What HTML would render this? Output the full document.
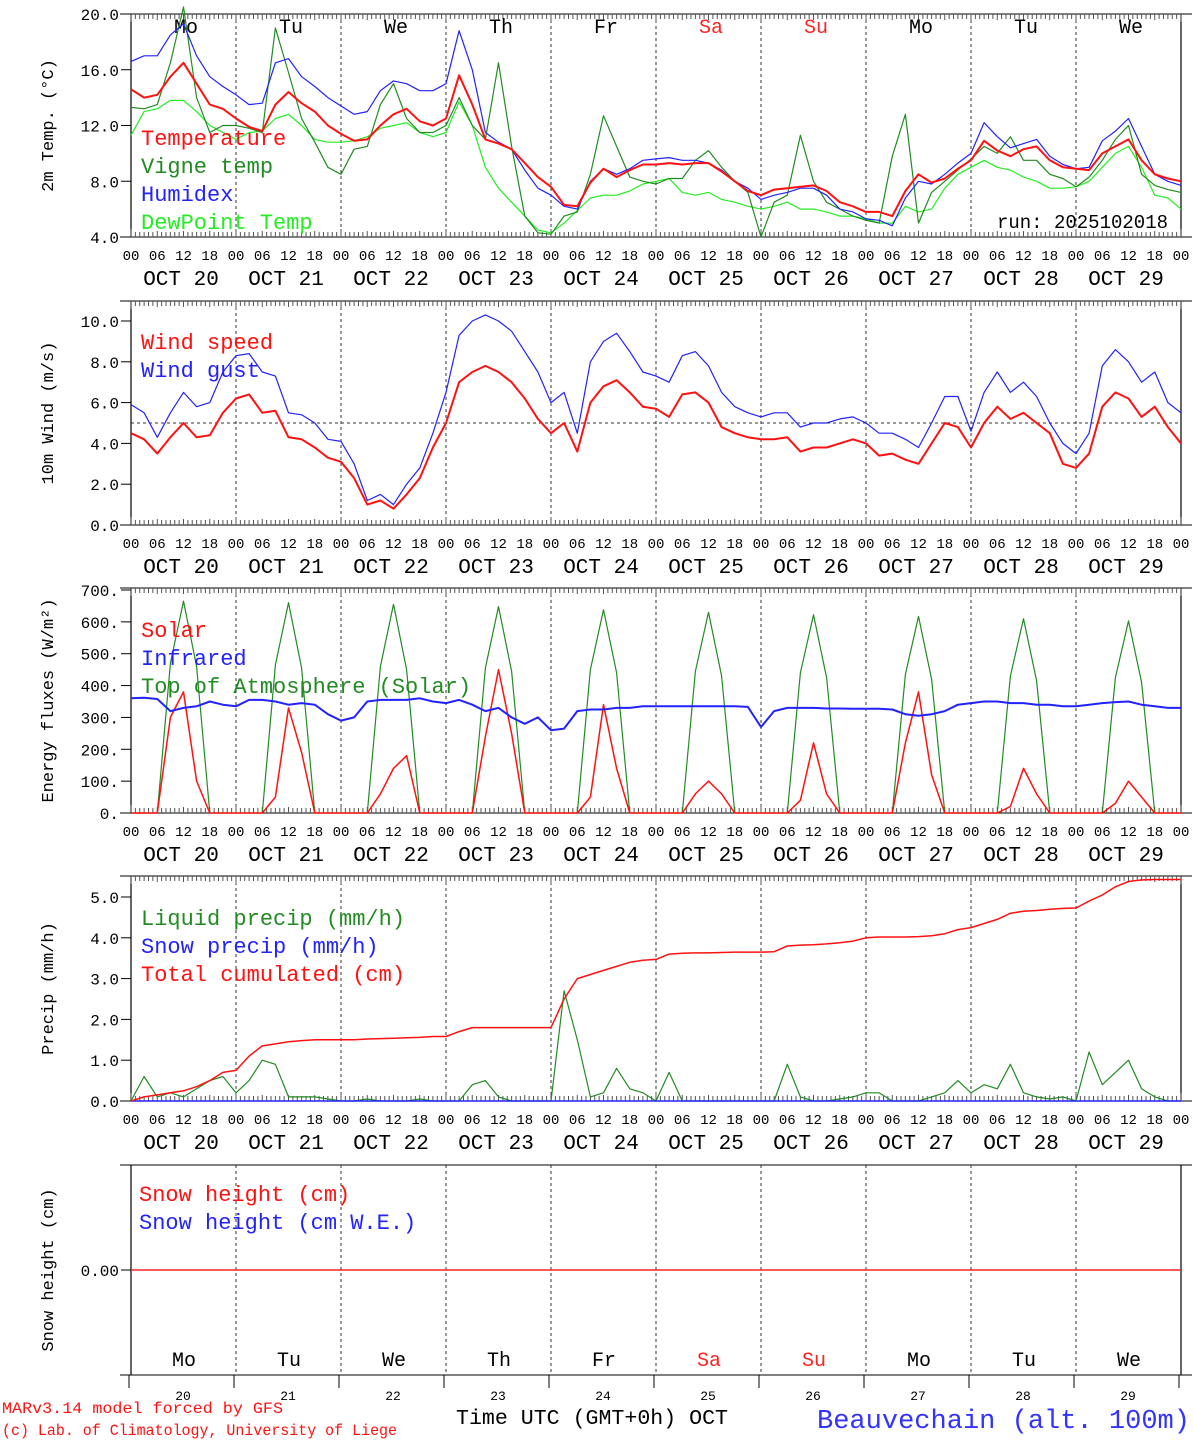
<!DOCTYPE html>
<html><head><meta charset="utf-8"><style>
html,body{margin:0;padding:0;background:#fff}
svg{display:block}
text{font-family:"Liberation Mono","DejaVu Sans Mono",monospace}
</style></head><body>
<svg id="c" width="1194" height="1440" viewBox="0 0 1194 1440" xmlns="http://www.w3.org/2000/svg"></svg>
<script>
const days=["20","21","22","23","24","25","26","27","28","29"];
const dayNames=["Mo","Tu","We","Th","Fr","Sa","Su","Mo","Tu","We"];
const hourLabels=["00","06","12","18"];
// 3-hourly series, 81 points (Oct20 00 -> Oct30 00)
const temperature=[14.6,14.0,14.2,15.5,16.5,15.0,13.5,13.2, 12.5,11.9,11.6,13.5,14.4,13.6,13.0,12.0, 11.4,10.9,11.0,12.0,12.8,13.2,12.3,12.0, 12.5,15.6,13.5,11.0,10.7,10.3,9.3,8.3, 7.6,6.3,6.2,7.9,8.9,8.3,8.8,9.2, 9.2,9.3,9.2,9.3,9.3,8.7,8.0,7.3, 7.0,7.4,7.5,7.6,7.7,7.3,6.5,6.2, 5.8,5.8,5.5,7.3,8.5,7.9,8.2,8.9, 9.5,10.9,10.2,9.8,10.3,10.5,9.5,9.0, 8.9,8.8,10.0,10.5,11.0,9.5,8.5,8.2,8.0];
const humidex=[16.6,17.0,17.0,18.5,19.3,17.0,15.5,14.8, 14.2,13.5,13.6,16.5,16.8,15.5,14.8,14.0, 13.4,12.8,13.0,14.5,15.2,15.0,14.5,14.5, 15.0,18.8,16.0,11.5,10.8,10.3,8.8,7.5, 7.0,6.2,6.0,8.0,8.9,8.5,8.9,9.5, 9.6,9.7,9.5,9.5,9.3,8.8,8.0,7.5, 6.7,7.0,7.2,7.5,7.5,7.0,6.0,5.8, 5.3,5.2,4.8,6.8,8.0,7.8,8.5,9.3, 10.0,12.2,11.2,10.4,10.7,11.0,9.8,9.2, 8.9,9.0,10.9,11.6,12.5,10.5,8.5,8.0,7.7];
const vigne=[13.3,13.2,13.5,16.5,20.5,14.0,11.5,12.0, 12.0,11.8,11.5,19.0,15.8,12.5,10.8,9.0, 8.5,10.3,10.5,13.5,15.0,12.5,11.5,11.5, 12.0,14.0,12.0,11.0,16.5,10.5,5.5,4.3, 4.2,5.5,5.8,8.5,12.7,10.5,8.3,8.0, 7.8,8.2,8.2,9.5,10.2,9.0,8.0,7.2, 4.0,6.5,7.0,11.3,8.0,6.5,6.0,5.5, 5.2,5.0,9.8,12.8,5.0,7.2,8.0,8.8, 9.6,10.5,10.0,11.2,9.5,9.5,8.5,8.2, 7.6,8.3,9.5,11.0,12.0,8.5,7.7,7.4,7.2];
const dewpoint=[11.3,13.0,13.2,13.8,13.8,13.0,12.0,11.5, 11.0,11.5,11.6,12.5,12.8,12.0,11.0,10.8, 10.8,10.9,11.2,11.8,12.0,12.2,11.5,11.2, 11.5,13.7,12.0,9.0,7.5,6.5,5.5,4.5, 4.3,5.0,5.9,6.8,7.0,7.0,7.3,7.8, 8.0,8.2,7.2,7.0,7.2,6.7,6.5,6.2, 6.0,6.2,6.5,6.0,6.0,5.8,5.5,5.5, 5.3,5.0,5.0,6.2,5.8,6.0,7.5,8.5, 9.0,9.5,9.0,8.8,8.3,8.0,7.5,7.5, 7.6,8.0,9.0,10.0,10.5,9.0,7.0,6.8,6.0];
const windSpeed=[4.5,4.2,3.5,4.3,5.0,4.3,4.4,5.5, 6.2,6.4,5.5,5.6,4.3,4.2,3.8,3.3, 3.1,2.3,1.0,1.2,0.8,1.5,2.3,3.8, 5.0,7.0,7.5,7.8,7.5,7.0,6.2,5.2, 4.5,5.0,3.6,6.0,6.8,7.1,6.5,5.8, 5.7,5.3,6.4,6.5,6.0,4.8,4.5,4.3, 4.2,4.2,4.3,3.6,3.8,3.8,4.0,4.2, 4.0,3.4,3.5,3.2,3.0,4.0,5.0,4.8, 3.8,5.0,5.8,5.2,5.5,5.0,4.5,3.0, 2.8,3.5,5.8,6.5,6.2,5.3,5.8,4.8,4.0];
const windGust=[5.9,5.5,4.3,5.5,6.5,5.8,6.0,7.5, 8.3,8.4,7.5,7.3,5.5,5.4,5.0,4.2, 4.1,3.0,1.2,1.5,1.0,2.0,2.8,4.5, 6.5,9.3,10.0,10.3,10.0,9.5,8.5,7.5, 6.0,6.5,4.5,8.0,9.0,9.4,8.5,7.5, 7.3,7.0,8.3,8.5,7.8,6.5,5.8,5.5, 5.3,5.5,5.5,4.8,5.0,5.0,5.2,5.3, 5.0,4.5,4.5,4.2,3.8,5.0,6.3,6.3, 4.6,6.5,7.5,6.5,7.0,6.3,5.0,4.0, 3.5,4.5,7.8,8.6,8.0,7.0,7.5,6.0,5.5];
const solar=[0,0,0,300,380,100,0,0, 0,0,0,50,330,190,0,0, 0,0,0,60,140,180,0,0, 0,0,0,240,450,250,0,0, 0,0,0,50,340,140,0,0, 0,0,0,60,100,60,0,0, 0,0,0,40,220,60,0,0, 0,0,0,220,380,120,0,0, 0,0,0,20,140,60,0,0, 0,0,0,30,100,50,0,0,0];
const infrared=[360,362,358,320,330,335,350,340, 335,355,355,350,340,345,340,310, 290,300,350,355,355,355,360,350, 345,355,340,320,330,300,280,300, 260,265,320,325,325,330,330,335, 335,335,335,335,335,335,335,333, 270,320,330,330,330,328,328,327, 327,327,325,310,305,310,320,340, 345,350,350,345,345,340,340,335, 335,340,345,348,350,340,335,330,330];
const toa=[0,0,0,470,665,460,0,0, 0,0,0,465,660,455,0,0, 0,0,0,460,655,450,0,0, 0,0,0,455,648,445,0,0, 0,0,0,450,638,440,0,0, 0,0,0,445,630,430,0,0, 0,0,0,440,622,425,0,0, 0,0,0,435,617,420,0,0, 0,0,0,430,610,415,0,0, 0,0,0,425,603,410,0,0,0];
const liquid=[0,0.6,0.1,0.2,0.1,0.3,0.5,0.6, 0.2,0.5,1.0,0.9,0.1,0.1,0.1,0.05, 0,0,0.05,0,0,0,0.05,0, 0,0,0.4,0.5,0.1,0,0,0, 0,2.7,1.5,0.1,0.2,0.8,0.3,0.2, 0,0.7,0,0,0,0,0,0, 0,0,0.9,0.1,0,0,0.05,0.1, 0.2,0.2,0,0,0,0.1,0.2,0.5, 0.2,0.4,0.3,0.9,0.2,0.1,0.05,0.1, 0,1.2,0.4,0.7,1.0,0.3,0.1,0,0];
const snowPrecip=new Array(81).fill(0);
const cumulated=[0,0.1,0.15,0.2,0.25,0.35,0.5,0.7, 0.75,1.1,1.35,1.4,1.45,1.48,1.5,1.5, 1.5,1.5,1.52,1.53,1.54,1.55,1.56,1.58, 1.58,1.7,1.8,1.8,1.8,1.8,1.8,1.8, 1.8,2.5,3.0,3.1,3.2,3.3,3.4,3.45, 3.47,3.6,3.62,3.63,3.63,3.64,3.65,3.65, 3.65,3.66,3.8,3.82,3.83,3.85,3.88,3.92, 4.0,4.02,4.02,4.02,4.03,4.05,4.1,4.2, 4.25,4.35,4.45,4.6,4.65,4.67,4.7,4.72, 4.73,4.9,5.05,5.25,5.38,5.42,5.43,5.43,5.43];
const snowHeight=new Array(81).fill(0);

const svg=document.getElementById('c');
const NS="http://www.w3.org/2000/svg";
const X0=131,X1=1181,DW=105;
function X(i){return X0+i*3*DW/24;}
function mk(tag,at,parent){const e=document.createElementNS(NS,tag);for(const k in at)e.setAttribute(k,at[k]);(parent||svg).appendChild(e);return e;}
function txt(s,at){const e=mk('text',at);e.textContent=s;return e;}

function panel(name,top,bot,vmin,vmax,yv0,yv1,ticks,fmt,title,labels){
  const g=mk('g',{});
  
  
  const Y=v=>yv0+(v-vmin)*(yv1-yv0)/(vmax-vmin);
  mk('line',{x1:X0-11,y1:top,x2:X1+11,y2:top,stroke:'#000','stroke-width':1},g);
  mk('line',{x1:X0-11,y1:bot,x2:X1+11,y2:bot,stroke:'#000','stroke-width':1},g);
  mk('line',{x1:X0,y1:top,x2:X0,y2:bot,stroke:'#000','stroke-width':1.2},g);
  mk('line',{x1:X1,y1:top,x2:X1,y2:bot,stroke:'#000','stroke-width':1.2},g);
  for(let d=1;d<10;d++){mk('line',{x1:X0+d*DW,y1:top,x2:X0+d*DW,y2:bot,stroke:'#333','stroke-dasharray':'3,3','stroke-width':1},g);}
  if(labels){
    for(let h=0;h<=240;h++){const x=X0+h*DW/24;const L=h%24==0?8:(h%6==0?6:5);
      mk('line',{x1:x,y1:bot,x2:x,y2:bot-L,stroke:'#555','stroke-width':1},g);
      mk('line',{x1:x,y1:top,x2:x,y2:top+L,stroke:'#555','stroke-width':1},g);}
    for(let d=0;d<=10;d++){for(let k=0;k<4;k++){if(d==10&&k>0)break;
      const t=txt(hourLabels[k],{x:X0+d*DW+k*DW/4,y:bot+23,'font-size':14,'text-anchor':'middle',fill:'#000'});
      }}
    days.forEach((d,i)=>{const t=txt('OCT '+d,{x:X0+i*DW+50,y:bot+48,'font-size':21,'text-anchor':'middle',fill:'#000'});
      });
  }
  ticks.forEach(v=>{mk('line',{x1:X0-10,y1:Y(v),x2:X0,y2:Y(v),stroke:'#000'},g);
    const t=txt(fmt(v),{x:X0-12,y:Y(v)+6,'font-size':16,'text-anchor':'end',fill:'#000'});
    });
  const tt=txt(title,{x:0,y:0,'font-size':17,'text-anchor':'middle',fill:'#000',transform:`translate(${X0-78},${(top+bot)/2}) rotate(-90)`});
  
  return Y;
}
function series(arr,Y,color,w,name){
  const p=mk('polyline',{points:arr.map((v,i)=>X(i).toFixed(1)+','+Y(v).toFixed(1)).join(' '),fill:'none',stroke:color,'stroke-width':w,'stroke-linejoin':'round'});
  
  
}
function legend(items,x,y0,dy){items.forEach((it,i)=>{const t=txt(it[0],{x:x,y:y0+i*dy,'font-size':22,fill:it[1]});
  });}

// Panel 1
let Y1=panel('temperature',14,237,4,20,237,14,[4,8,12,16,20],v=>v.toFixed(1),'2m Temp. (°C)',true);
dayNames.forEach((d,i)=>{const t=txt(d,{x:X0+i*DW+55,y:33,'font-size':20,'text-anchor':'middle',fill:(i==5||i==6)?'#f22':'#000'});
  });
series(dewpoint,Y1,'#22ee22',1.2,'dewpoint-line');
series(vigne,Y1,'#228b22',1.2,'vigne-temp-line');
series(humidex,Y1,'#2222ff',1.2,'humidex-line');
series(temperature,Y1,'#ff1111',2,'temperature-line');
legend([['Temperature','#f11'],['Vigne temp','#228b22'],['Humidex','#22f'],['DewPoint Temp','#2e2']],141,145,28);
let rt=txt('run: 2025102018',{x:1168,y:228,'font-size':19,'text-anchor':'end',fill:'#000'});


// Panel 2
let Y2=panel('wind',301,525,0,10,525,321,[0,2,4,6,8,10],v=>v.toFixed(1),'10m Wind (m/s)',true);
mk('line',{x1:X0,y1:Y2(5),x2:X1,y2:Y2(5),stroke:'#333','stroke-dasharray':'3,3'});
series(windGust,Y2,'#2222ff',1.2,'wind-gust-line');
series(windSpeed,Y2,'#ff1111',2,'wind-speed-line');
legend([['Wind speed','#f11'],['Wind gust','#22f']],141,349,28);

// Panel 3
let Y3=panel('energy',588,813,0,700,813,590,[0,100,200,300,400,500,600,700],v=>v+'.','Energy fluxes (W/m²)',true);
series(toa,Y3,'#228b22',1.2,'toa-solar-line');
series(solar,Y3,'#ff1111',1.5,'solar-line');
series(infrared,Y3,'#2222ff',2,'infrared-line');
legend([['Solar','#f11'],['Infrared','#22f'],['Top of Atmosphere (Solar)','#228b22']],141,637,28);

// Panel 4
let Y4=panel('precip',876,1101,0,5,1101,897,[0,1,2,3,4,5],v=>v.toFixed(1),'Precip (mm/h)',true);
series(liquid,Y4,'#228b22',1.2,'liquid-precip-line');
series(snowPrecip,Y4,'#2222ff',1.5,'snow-precip-line');
series(cumulated,Y4,'#ff1111',1.5,'total-cumulated-line');
legend([['Liquid precip (mm/h)','#228b22'],['Snow precip (mm/h)','#22f'],['Total cumulated (cm)','#f11']],141,925,28);

// Panel 5
let Y5=panel('snow',1165,1375,-1,1,1375,1165,[0],v=>v.toFixed(2),'Snow height (cm)',false);
for(let d=0;d<=10;d++){mk('line',{x1:X0+d*DW-2,y1:1375,x2:X0+d*DW-2,y2:1388,stroke:'#000'});}
series(snowHeight,Y5,'#ff2222',1.5,'snow-height-line');
legend([['Snow height (cm)','#f11'],['Snow height (cm W.E.)','#22f']],139,1201,28);
dayNames.forEach((d,i)=>{const t=txt(d,{x:X0+i*DW+53,y:1366,'font-size':20,'text-anchor':'middle',fill:(i==5||i==6)?'#f22':'#000'});
  
  const n=txt(days[i],{x:X0+i*DW+52,y:1400,'font-size':13,'text-anchor':'middle',fill:'#000'});
  });
let a=txt('Time UTC (GMT+0h) OCT',{x:592,y:1424,'font-size':21,'text-anchor':'middle',fill:'#000',textLength:272,lengthAdjust:'spacingAndGlyphs'});

let c1=txt('MARv3.14 model forced by GFS',{x:2,y:1413,'font-size':16,fill:'#f11',textLength:281,lengthAdjust:'spacingAndGlyphs'});

let c2=txt('(c) Lab. of Climatology, University of Liege',{x:2,y:1435,'font-size':16,fill:'#f11',textLength:395,lengthAdjust:'spacingAndGlyphs'});

let st=txt('Beauvechain (alt. 100m)',{x:1190,y:1428,'font-size':27,'text-anchor':'end',fill:'#33f',textLength:373,lengthAdjust:'spacingAndGlyphs'});

</script>
</body></html>
